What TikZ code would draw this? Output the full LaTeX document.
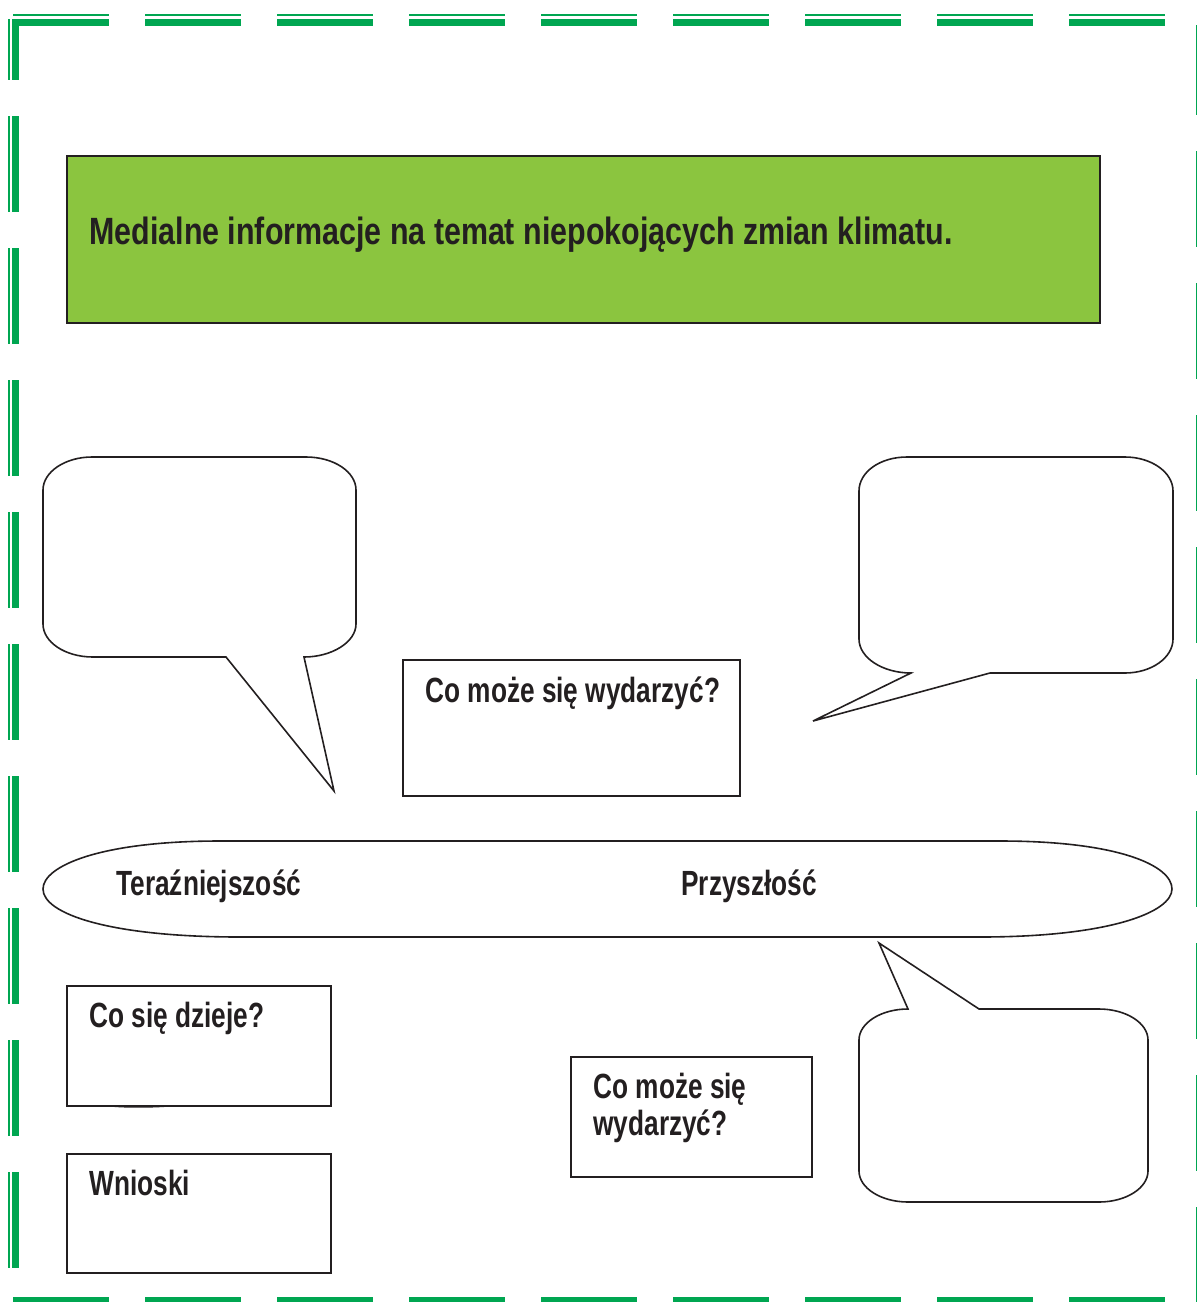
\documentclass[tikz,border=0pt]{standalone}
\usepackage{fontspec}
\setmainfont{Liberation Sans}[FakeStretch=0.8]
\newfontfamily\cardfont{Liberation Sans}[FakeStretch=0.75]
\usetikzlibrary{calc}
\definecolor{frameGreen}{RGB}{0,166,81}
\definecolor{titleGreen}{RGB}{139,197,63}
\definecolor{ink}{RGB}{35,31,32}
\tikzset{
  frame thick/.style={draw=frameGreen, line width=3.5pt, dash pattern=on 48pt off 18pt},
  frame thin/.style={draw=frameGreen, line width=1.2pt, dash pattern=on 48pt off 18pt},
  card/.style={draw=ink, line width=0.8pt, inner sep=0pt, outer sep=0pt},
  bubble/.style={draw=ink, line width=0.8pt, line join=miter},
  lbl/.style={font=\cardfont\bfseries\fontsize{17.5}{18.5}\selectfont, text=ink,
    inner sep=0pt, anchor=base west, align=left}
}

\begin{document}
\begin{tikzpicture}[x=0.5pt, y=-0.5pt]
  \useasboundingbox (0,0) rectangle (1197,1302);

  % ---- the green dashed frame, doubled on the top and the left
  \draw[frame thin] (13,14.7) -- (1166,14.7);
  \draw[frame thick] (13,22) -- (1166,22);
  \draw[frame thin, dash phase=17.5pt] (8.7,19) -- (8.7,1268);
  \draw[frame thick, dash phase=17.5pt] (15.7,19) -- (15.7,1268);
  \draw[frame thin, line width=0.7pt, dash phase=3pt] (1196.3,25) -- (1196.3,1303);
  \draw[frame thick] (13,1300) -- (1166,1300);

  % ---- title bar
  \node[card, fill=titleGreen, line width=1pt, minimum width=516.5pt,
        minimum height=83.5pt] at (583.5,239.5) (tytul) {};
  \node[lbl, font=\bfseries\fontsize{19}{22}\selectfont]
        at ($(tytul.north west)+(22,88)$) (tytulT)
        {Medialne informacje na temat niepokojących zmian klimatu.};

  % ================= speech bubbles ============================================
  % top left, tail pointing down to the time line
  \draw[bubble] (92,457) -- (306,457)
    .. controls (334,457) and (356,472) .. (356,490) -- (356,624)
    .. controls (356,642) and (332,657) .. (304,657)
    -- (334,791) -- (226,657) -- (93,657)
    .. controls (65,657) and (43,642) .. (43,624) -- (43,490)
    .. controls (43,472) and (65,457) .. (92,457) -- cycle;
  % top right, tail pointing left
  \draw[bubble] (907,457) -- (1125,457)
    .. controls (1151,457) and (1173,472) .. (1173,491) -- (1173,639)
    .. controls (1173,658) and (1151,673) .. (1125,673)
    -- (990,673) -- (813,721) -- (911,673)
    .. controls (883,673) and (859,658) .. (859,639) -- (859,491)
    .. controls (859,472) and (880,457) .. (907,457) -- cycle;
  % bottom right, tail pointing up
  \draw[bubble] (908,1009) -- (879,943) -- (979,1009) -- (1099,1009)
    .. controls (1126,1009) and (1148,1023) .. (1148,1040) -- (1148,1171)
    .. controls (1148,1188) and (1126,1202) .. (1099,1202) -- (908,1202)
    .. controls (881,1202) and (859,1188) .. (859,1171) -- (859,1040)
    .. controls (859,1023) and (881,1009) .. (908,1009) -- cycle;

  % ================= the time line =============================================
  \draw[bubble] (220,841) -- (1000,841)
    .. controls (1120,841) and (1172,866) .. (1172,889)
    .. controls (1172,912) and (1110,937) .. (980,937) -- (240,937)
    .. controls (110,937) and (43,914) .. (43,889)
    .. controls (43,866) and (100,841) .. (220,841) -- cycle;
  \node[lbl] at (116,895) (teraz) {Teraźniejszość};
  \node[lbl] at (681,895) (przysz) {Przyszłość};

  % ================= question boxes ============================================
  \node[card, minimum width=168.5pt, minimum height=68pt] at (571.5,728) (moze) {};
  \node[lbl] at ($(moze.north west)+(22,42)$) (mozeT) {Co może się wydarzyć?};

  \node[card, minimum width=132pt, minimum height=60pt] at (199,1046) (dzieje) {};
  \node[lbl] at ($(dzieje.north west)+(22,41)$) (dziejeT) {Co się dzieje?};
  \draw[card, line width=0.6pt] (110,1106) .. controls (125,1107.5) and (150,1107.5) .. (170,1106);

  \node[card, minimum width=132pt, minimum height=59.5pt] at (199,1213.5) (wnioski) {};
  \node[lbl] at ($(wnioski.north west)+(22,41)$) (wnioskiT) {Wnioski};

  \node[card, minimum width=120.5pt, minimum height=60pt] at (691.5,1117) (moze2) {};
  \node[lbl] at ($(moze2.north west)+(22,78)$) (moze2T) {Co może się\\wydarzyć?};

\end{tikzpicture}
\end{document}
